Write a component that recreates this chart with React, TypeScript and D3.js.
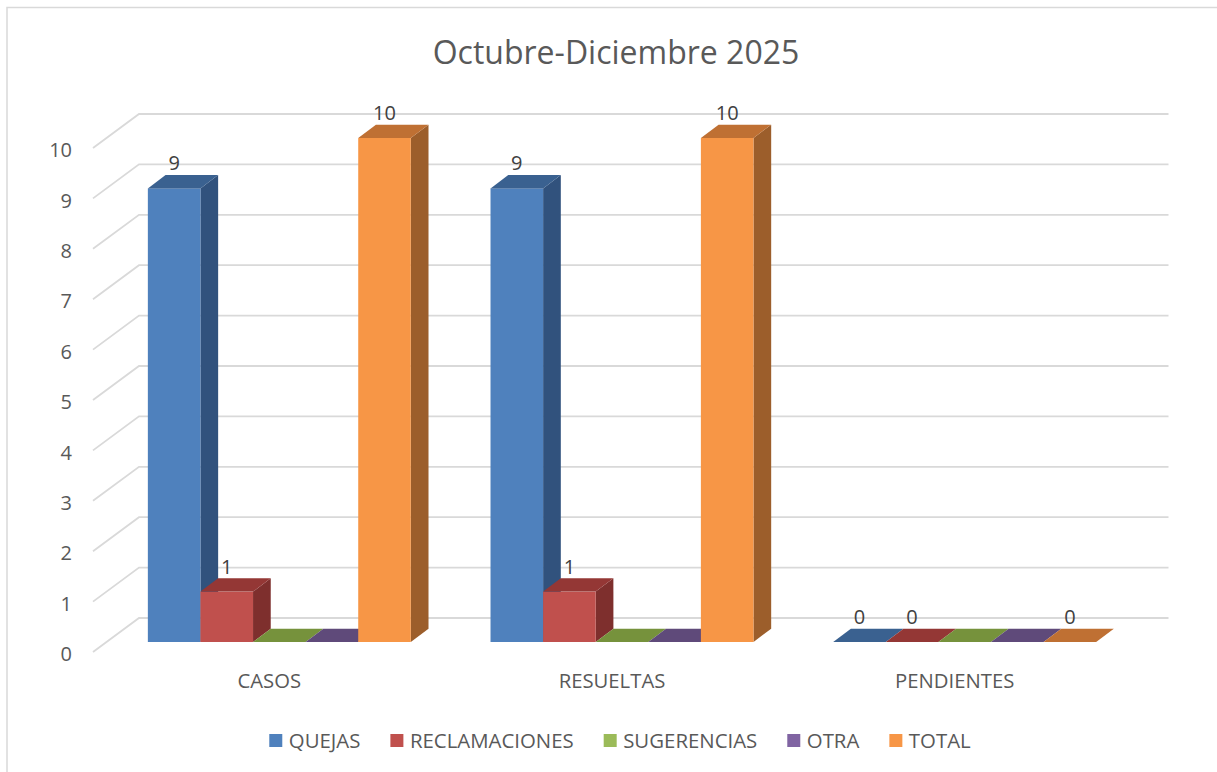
import React, { useEffect, useRef } from "react";
import * as d3 from "d3";

const TITLE = "Octubre-Diciembre 2025";
const CATEGORIES = ["CASOS", "RESUELTAS", "PENDIENTES"];
const SERIES = ["QUEJAS", "RECLAMACIONES", "SUGERENCIAS", "OTRA", "TOTAL"];
const QUEJAS: (number | null)[] = [9, 9, 0];
const RECLAMACIONES: (number | null)[] = [1, 1, 0];
const SUGERENCIAS: (number | null)[] = [null, null, null];
const OTRA: (number | null)[] = [null, null, null];
const TOTAL: (number | null)[] = [10, 10, 0];
const Y_TICKS = [0, 1, 2, 3, 4, 5, 6, 7, 8, 9, 10];

const FRONT = ["#4F81BD", "#C0504D", "#9BBB59", "#8064A2", "#F79646"];
const TOP = ["#3A6190", "#943735", "#76923C", "#5F4A7A", "#BF7033"];
const SIDE = ["#31527D", "#7E2F2D", "#637A35", "#4E3D66", "#9C5E2B"];

const W = 1217;
const H = 772;
const FONT = "'Open Sans', 'DejaVu Sans', sans-serif";

export default function App() {
  const ref = useRef<SVGSVGElement>(null);

  useEffect(() => {
    const svg = d3.select(ref.current);
    svg.selectAll("*").remove();

    const values = [QUEJAS, RECLAMACIONES, SUGERENCIAS, OTRA, TOTAL];

    // 3D geometry
    const depthX = 46, depthY = -34; // full floor depth
    const barOffX = 13.5, barOffY = -10; // bar front plane offset from axis front plane
    const barDX = 17.7, barDY = -13.3; // bar depth
    const axisX = 93;

    const y = d3.scaleLinear().domain([0, 10]).range([652, 148]);
    const x = d3
      .scaleBand<string>()
      .domain(CATEGORIES)
      .range([108, 1136])
      .paddingInner(0.2326)
      .paddingOuter(0.1163);
    const xs = d3.scaleBand<string>().domain(SERIES).range([0, x.bandwidth()]);

    // chart border (left/top visible)
    svg
      .append("rect")
      .attr("x", 7)
      .attr("y", 7.5)
      .attr("width", 1300)
      .attr("height", 900)
      .attr("fill", "#fff")
      .attr("stroke", "#D9D9D9")
      .attr("stroke-width", 1.5);

    // title
    svg
      .append("text")
      .attr("x", 616)
      .attr("y", 64)
      .attr("text-anchor", "middle")
      .attr("font-family", FONT)
      .attr("font-size", 32)
      .attr("fill", "#595959")
      .text(TITLE);

    // gridlines: side wall diagonal + back wall horizontal
    const backRight = x.range()[1] + (depthX - barOffX);
    const g = svg.append("g").attr("stroke", "#D9D9D9").attr("stroke-width", 1.8).attr("fill", "none");
    Y_TICKS.forEach((t) => {
      g.append("path").attr(
        "d",
        `M${axisX},${y(t)}L${axisX + depthX},${y(t) + depthY}L${backRight},${y(t) + depthY}`
      );
    });

    // y tick labels
    svg
      .append("g")
      .selectAll("text")
      .data(Y_TICKS)
      .join("text")
      .attr("x", 72)
      .attr("y", (d) => y(d) + 2)
      .attr("dy", "0.36em")
      .attr("text-anchor", "end")
      .attr("font-family", FONT)
      .attr("font-size", 20)
      .attr("fill", "#595959")
      .text((d) => String(d));

    // bars
    const bars = svg.append("g");
    const labels: { x: number; y: number; t: string }[] = [];
    CATEGORIES.forEach((cat, ci) => {
      SERIES.forEach((s, si) => {
        const v = values[si][ci];
        const val = v == null ? 0 : v;
        const x0 = (x(cat) as number) + (xs(s) as number);
        const x1 = x0 + xs.bandwidth();
        const yb = y(0) + barOffY;
        const yt = y(val) + barOffY;
        if (val > 0) {
          bars
            .append("path")
            .attr("d", `M${x1},${yb}L${x1 + barDX},${yb + barDY}L${x1 + barDX},${yt + barDY}L${x1},${yt}Z`)
            .attr("fill", SIDE[si]);
          bars
            .append("rect")
            .attr("x", x0)
            .attr("y", yt)
            .attr("width", x1 - x0)
            .attr("height", yb - yt)
            .attr("fill", FRONT[si]);
        }
        bars
          .append("path")
          .attr("d", `M${x0},${yt}L${x1},${yt}L${x1 + barDX},${yt + barDY}L${x0 + barDX},${yt + barDY}Z`)
          .attr("fill", TOP[si]);
        if (v != null) {
          labels.push({ x: (x0 + x1) / 2, y: yt - 18, t: String(v) });
        }
      });
    });

    svg
      .append("g")
      .selectAll("text")
      .data(labels)
      .join("text")
      .attr("x", (d) => d.x)
      .attr("y", (d) => d.y)
      .attr("text-anchor", "middle")
      .attr("font-family", FONT)
      .attr("font-size", 20)
      .attr("fill", "#404040")
      .text((d) => d.t);

    // category labels
    svg
      .append("g")
      .selectAll("text")
      .data(CATEGORIES)
      .join("text")
      .attr("x", (d) => (x(d) as number) + x.bandwidth() / 2 - 10)
      .attr("y", 688)
      .attr("text-anchor", "middle")
      .attr("font-family", FONT)
      .attr("font-size", 20.3)
      .attr("fill", "#595959")
      .text((d) => d);

    // legend
    const lg = svg.append("g");
    const items = SERIES.map((s, i) => {
      const t = lg
        .append("text")
        .attr("y", 748)
        .attr("font-family", FONT)
        .attr("font-size", 20.4)
        .attr("fill", "#595959")
        .text(s);
      const w = (t.node() as SVGTextElement).getComputedTextLength();
      const r = lg.append("rect").attr("y", 734).attr("width", 13).attr("height", 13).attr("fill", FRONT[i]);
      return { t, r, w };
    });
    const sq = 13, gapIn = 6.5, gapOut = 30;
    const total = items.reduce((a, it) => a + sq + gapIn + it.w, 0) + gapOut * (items.length - 1);
    let cx = 620 - total / 2;
    items.forEach((it) => {
      it.r.attr("x", cx);
      it.t.attr("x", cx + sq + gapIn);
      cx += sq + gapIn + it.w + gapOut;
    });
  }, []);

  return (
    <svg
      ref={ref}
      width={W}
      height={H}
      style={{ position: "absolute", left: 0, top: 0, background: "#fff" }}
    />
  );
}
